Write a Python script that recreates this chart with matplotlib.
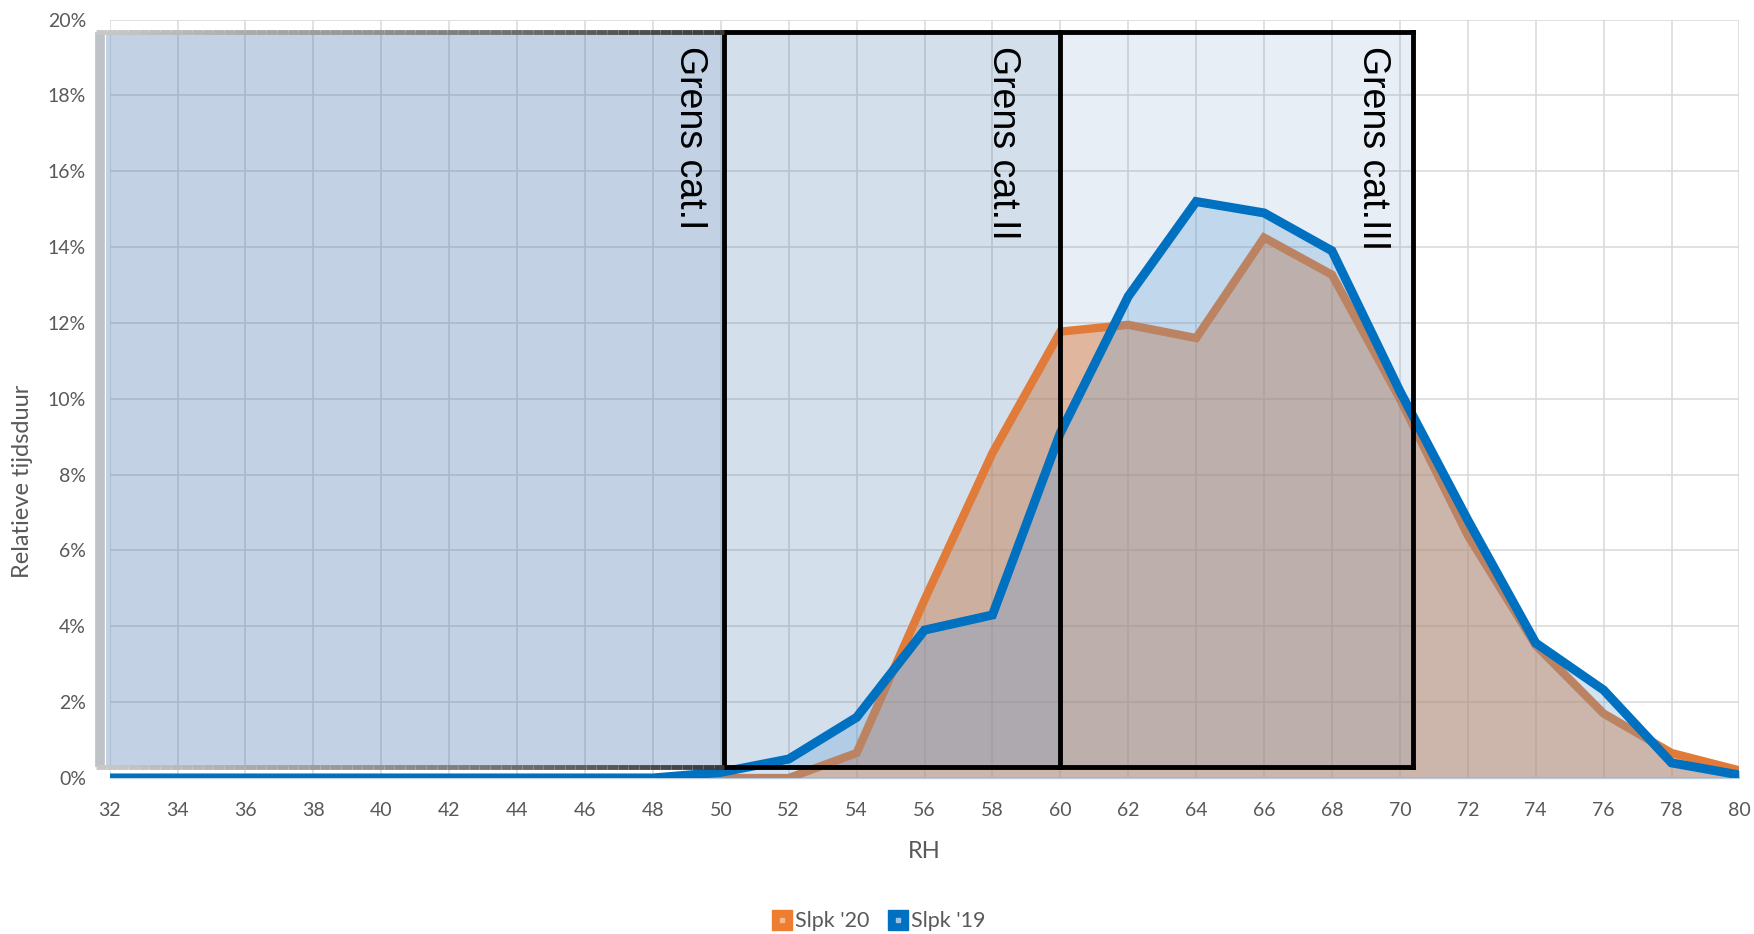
import matplotlib
matplotlib.use('Agg')
import matplotlib.pyplot as plt
import matplotlib.colors as mcolors
from matplotlib.lines import Line2D
from matplotlib.patches import Rectangle
from matplotlib.collections import LineCollection
from matplotlib.legend_handler import HandlerTuple
import numpy as np

# ---------------- data ----------------
rh = [32, 34, 36, 38, 40, 42, 44, 46, 48, 50, 52, 54, 56,
      58, 60, 62, 64, 66, 68, 70, 72, 74, 76, 78, 80]
slpk20 = [0, 0, 0, 0, 0, 0, 0, 0, 0, 0, 0, 0.66, 4.7,
          8.57, 11.77, 11.95, 11.6, 14.25, 13.27, 10.0, 6.4, 3.5, 1.7, 0.66, 0.2]
slpk19 = [0, 0, 0, 0, 0, 0, 0, 0, 0, 0.15, 0.5, 1.6, 3.9,
          4.3, 9.1, 12.7, 15.2, 14.9, 13.9, 10.2, 6.8, 3.56, 2.32, 0.4, 0.08]
series_labels = ["Slpk '20", "Slpk '19"]
x_ticks = [32, 34, 36, 38, 40, 42, 44, 46, 48, 50, 52, 54, 56,
           58, 60, 62, 64, 66, 68, 70, 72, 74, 76, 78, 80]
y_ticks = [0, 2, 4, 6, 8, 10, 12, 14, 16, 18, 20]
grens_x = [50.1, 60.0, 70.4]
grens_labels = ['Grens cat.I', 'Grens cat.II', 'Grens cat.III']
grens_label_x = [49.1, 58.3, 69.2]

# ---------------- style ----------------
ORANGE = '#E07B39'
BLUE = '#0070C0'
TXT = '#595959'
box_left = 31.9
box_bottom = 0.29
box_top = 19.68

fig = plt.figure(figsize=(17.54, 9.34), dpi=100)
ax = fig.add_axes([0.0625, 0.167, 0.9292, 0.8121])
ax.set_xlim(32, 80)
ax.set_ylim(0, 20)

ax.set_xticks(x_ticks)
ax.set_yticks(y_ticks)
ax.set_yticklabels([f'{v}%' for v in y_ticks])
ax.tick_params(axis='both', length=0, labelsize=14, labelcolor=TXT)
ax.tick_params(axis='y', pad=17)
ax.tick_params(axis='x', pad=17)
for lbl in ax.get_xticklabels() + ax.get_yticklabels():
    lbl.set_fontfamily('Lato')
ax.grid(True, color='#d9d9d9', lw=1.1, zorder=0)
ax.set_axisbelow(True)
for s in ['top', 'right', 'left']:
    ax.spines[s].set_visible(False)
ax.spines['bottom'].set_color('#c9d3de')
ax.spines['bottom'].set_linewidth(1.0)

# orange series
ax.fill_between(rh, slpk20, 0, color='#ED7D31', alpha=0.48, lw=0, zorder=2)

# category overlays (nested translucent boxes)
for right in grens_x:
    ax.add_patch(Rectangle((box_left, box_bottom), right - box_left, box_top - box_bottom,
                           facecolor='#4e7cb2', alpha=0.13, lw=0, zorder=3, clip_on=False))

ax.plot(rh, slpk20, color=ORANGE, lw=6, zorder=4, solid_joinstyle='miter')

# blue series
ax.fill_between(rh, slpk19, 0, color='#5B9BD5', alpha=0.27, lw=0, zorder=5)
ax.plot(rh, slpk19, color=BLUE, lw=6.5, zorder=6, solid_joinstyle='miter')

# black borders of category boxes
bk = dict(color='black', lw=3.5, zorder=7, clip_on=False, solid_capstyle='projecting')
for gx in grens_x:
    ax.plot([gx, gx], [box_bottom, box_top], **bk)
ax.plot([grens_x[0], grens_x[-1]], [box_top, box_top], **bk)
ax.plot([grens_x[0], grens_x[-1]], [box_bottom, box_bottom], **bk)

# grey gradient border of the first box
ax.plot([31.72, 31.72], [box_bottom, box_top], color='#bfc3c7', lw=7, zorder=7,
        clip_on=False, solid_capstyle='butt')
xs = np.linspace(31.6, grens_x[0], 60)
cmap = mcolors.LinearSegmentedColormap.from_list('g', ['#c8c8c8', '#8a8a8a', '#3a3a3a'])
for yv in (box_top, box_bottom):
    segs = [[(xs[i], yv), (xs[i + 1], yv)] for i in range(len(xs) - 1)]
    lc = LineCollection(segs, colors=[cmap(i / (len(segs) - 1)) for i in range(len(segs))],
                        linewidths=3.5, zorder=7, clip_on=False)
    ax.add_collection(lc)

# labels in boxes
for lx, lab in zip(grens_label_x, grens_labels):
    ax.text(lx, 19.3, lab, rotation=270, ha='center', va='top', fontsize=27,
            family='Liberation Sans', color='black', zorder=8)

# axis labels
ax.set_xlabel('RH', fontsize=17, color=TXT, family='Lato', labelpad=16)
fig.text(0.013, 0.485, 'Relatieve tijdsduur', rotation=90, ha='center', va='center',
         fontsize=17, color=TXT, family='Lato')

# legend
h20 = (Line2D([], [], ls='none', marker='s', ms=14, mfc='#ED7D31', mec='#ED7D31'),
       Line2D([], [], ls='none', marker='s', ms=3.5, mfc='#f8b98c', mec='#f8b98c'))
h19 = (Line2D([], [], ls='none', marker='s', ms=14, mfc=BLUE, mec=BLUE),
       Line2D([], [], ls='none', marker='s', ms=3.5, mfc='#9dc3e6', mec='#9dc3e6'))
leg = fig.legend([h20, h19], series_labels, loc='center', bbox_to_anchor=(0.501, 0.0135),
                 ncol=2, frameon=False, handler_map={tuple: HandlerTuple(ndivide=1)},
                 handlelength=0.9, handletextpad=0.15, columnspacing=0.9,
                 prop={'family': 'Lato', 'size': 15.5})
for t in leg.get_texts():
    t.set_color(TXT)

fig.savefig('out.png', dpi=100)
